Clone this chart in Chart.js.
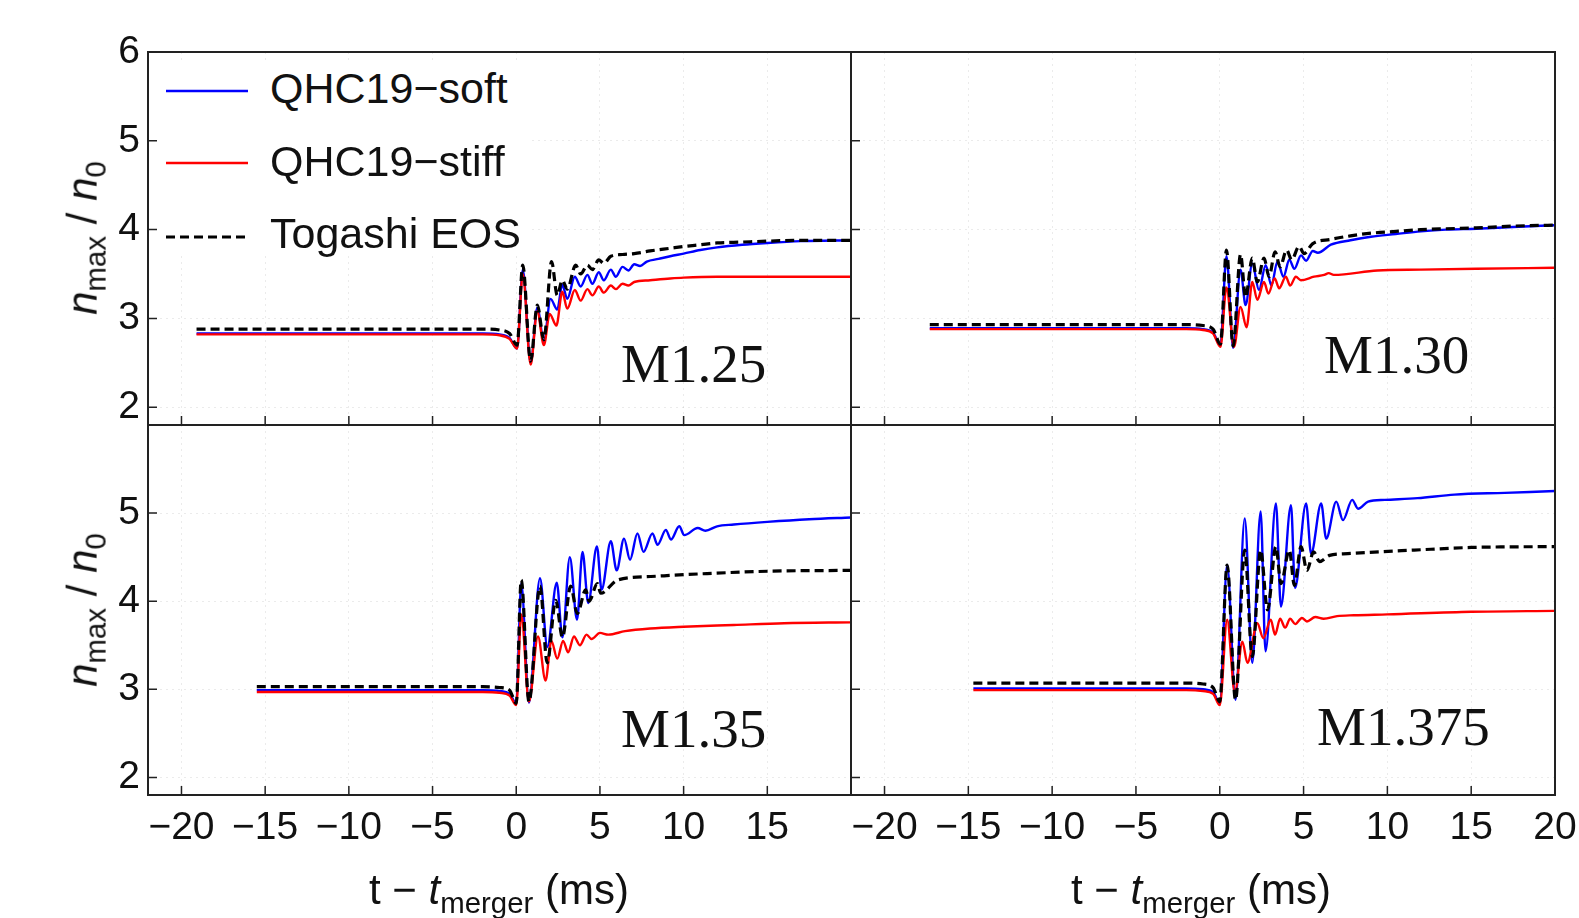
<!DOCTYPE html>
<html>
<head>
<meta charset="utf-8">
<script src="https://cdn.jsdelivr.net/npm/chart.js@4.4.1/dist/chart.umd.min.js"></script>
<style>
  html, body { margin: 0; padding: 0; background: #fff; }
  #wrap { position: relative; width: 1579px; height: 918px; overflow: hidden;
          font-family: "Liberation Sans", Arial, sans-serif; color: #111; }
  #wrap canvas { position: absolute; left: 0; top: 0; }
  .lbl { position: absolute; line-height: 1; white-space: nowrap; }
  .mass { font-family: "Liberation Serif", "Times New Roman", serif; font-size: 55px; }
  .ytitle { font-size: 42px; transform: translate(-50%, -50%) rotate(-90deg); }
  .xtitle { font-size: 42px; transform: translate(-50%, -50%); }
  .ytitle sub, .xtitle sub { font-size: 0.7em; }
  .legbox { position: absolute; left: 158px; top: 62px; width: 370px; height: 192px; background: #fff; }
  .legtxt { font-size: 43px; }
  .legsw { position: absolute; left: 166px; }
</style>
</head>
<body>
<div id="wrap">
  <canvas id="cTL" width="1579" height="918"></canvas>
  <canvas id="cTR" width="1579" height="918"></canvas>
  <canvas id="cBL" width="1579" height="918"></canvas>
  <canvas id="cBR" width="1579" height="918"></canvas>

  <div class="legbox"></div>
  <svg class="legsw" style="top:86px" width="82" height="10"><line x1="0" y1="5" x2="82" y2="5" stroke="#0000ff" stroke-width="2.5"/></svg>
  <svg class="legsw" style="top:158px" width="82" height="10"><line x1="0" y1="5" x2="82" y2="5" stroke="#ff0000" stroke-width="2.5"/></svg>
  <svg class="legsw" style="top:232px" width="82" height="10"><line x1="0" y1="5" x2="82" y2="5" stroke="#000" stroke-width="3.2" stroke-dasharray="9 5"/></svg>
  <div class="lbl legtxt" style="left:270px;top:67px">QHC19&minus;soft</div>
  <div class="lbl legtxt" style="left:270px;top:140px">QHC19&minus;stiff</div>
  <div class="lbl legtxt" style="left:270px;top:212px">Togashi EOS</div>

  <div class="lbl mass" style="left:621px;top:336px">M1.25</div>
  <div class="lbl mass" style="left:1324px;top:327px">M1.30</div>
  <div class="lbl mass" style="left:621px;top:701px">M1.35</div>
  <div class="lbl mass" style="left:1317px;top:699px">M1.375</div>

  <div class="lbl ytitle" style="left:86px;top:238px"><i>n</i><sub>max</sub> / <i>n</i><sub>0</sub></div>
  <div class="lbl ytitle" style="left:86px;top:610px"><i>n</i><sub>max</sub> / <i>n</i><sub>0</sub></div>
  <div class="lbl xtitle" style="left:499px;top:893px">t &minus; <i>t</i><sub>merger</sub> (ms)</div>
  <div class="lbl xtitle" style="left:1201px;top:893px">t &minus; <i>t</i><sub>merger</sub> (ms)</div>
</div>

<script>
// axis ranges and ticks
const X_MIN = -22, X_MAX = 20, Y_MIN = 1.8, Y_MAX = 6;
const xTicksLeft = [-20, -15, -10, -5, 0, 5, 10, 15];
const xTicksRight = [-20, -15, -10, -5, 0, 5, 10, 15, 20];
const yTicksTop = [2, 3, 4, 5, 6];
const yTicksBottom = [2, 3, 4, 5];

// M1.25
const softT_125 = [-19.1, -10, -2, -1, -0.4, 0.05, 0.39, 0.86, 1.26, 1.65, 2.05, 2.45, 2.75, 3.05, 3.5, 3.85, 4.25, 4.55, 4.93, 5.23, 5.65, 5.95, 6.35, 6.7, 7.05, 7.4, 7.8, 8.5, 9.2, 10, 11, 12, 13.5, 15, 17, 20];
const soft_125  = [2.83, 2.83, 2.83, 2.82, 2.78, 2.66, 3.55, 2.50, 3.12, 2.74, 3.22, 3.10, 3.38, 3.22, 3.47, 3.36, 3.49, 3.39, 3.52, 3.43, 3.55, 3.47, 3.58, 3.54, 3.61, 3.59, 3.64, 3.67, 3.70, 3.73, 3.77, 3.80, 3.83, 3.85, 3.87, 3.88];
const stiffT_125 = [-19.1, -10, -2, -1, -0.4, 0.05, 0.39, 0.86, 1.26, 1.65, 2.0, 2.4, 2.75, 3.05, 3.5, 3.85, 4.25, 4.55, 4.93, 5.23, 5.65, 5.95, 6.35, 6.7, 7.05, 8, 9.2, 10, 12, 15, 20];
const stiff_125  = [2.82, 2.82, 2.82, 2.81, 2.77, 2.66, 3.50, 2.48, 3.08, 2.70, 3.05, 2.92, 3.30, 3.11, 3.32, 3.20, 3.33, 3.26, 3.36, 3.29, 3.37, 3.33, 3.39, 3.37, 3.41, 3.43, 3.45, 3.46, 3.47, 3.47, 3.47];
const togT_125 = [-19.1, -10, -2, -1, -0.4, 0.05, 0.39, 0.86, 1.26, 1.65, 2.11, 2.45, 2.75, 3.05, 3.55, 3.85, 4.25, 4.55, 4.93, 5.23, 5.65, 6.35, 7.05, 8, 9.2, 10, 11, 12, 13.5, 15, 17, 20];
const tog_125  = [2.88, 2.88, 2.88, 2.87, 2.83, 2.70, 3.60, 2.52, 3.15, 2.76, 3.64, 3.26, 3.43, 3.33, 3.60, 3.50, 3.60, 3.55, 3.66, 3.62, 3.70, 3.72, 3.73, 3.76, 3.79, 3.81, 3.83, 3.85, 3.86, 3.87, 3.88, 3.88];

// M1.30
const softT_130 = [-17.3, -10, -2, -1, -0.4, 0.04, 0.4, 0.8, 1.24, 1.54, 1.94, 2.34, 2.74, 3.08, 3.44, 3.8, 4.15, 4.45, 4.85, 5.15, 5.55, 5.85, 6.63, 7.8, 9.02, 10.5, 12, 13.5, 15.3, 17.5, 20];
const soft_130  = [2.89, 2.89, 2.89, 2.88, 2.84, 2.70, 3.70, 2.67, 3.55, 3.15, 3.62, 3.32, 3.60, 3.37, 3.64, 3.47, 3.66, 3.56, 3.71, 3.65, 3.76, 3.74, 3.83, 3.88, 3.92, 3.95, 3.98, 4.00, 4.01, 4.03, 4.05];
const stiffT_130 = [-17.3, -10, -2, -1, -0.4, 0.04, 0.4, 0.85, 1.24, 1.6, 1.94, 2.24, 2.64, 2.9, 3.28, 3.54, 3.94, 4.2, 4.54, 4.84, 5.63, 6.23, 6.5, 6.8, 9.4, 12, 15.3, 20];
const stiff_130  = [2.88, 2.88, 2.88, 2.87, 2.83, 2.68, 3.35, 2.68, 3.13, 2.90, 3.41, 3.21, 3.41, 3.28, 3.45, 3.34, 3.47, 3.37, 3.47, 3.43, 3.47, 3.49, 3.51, 3.49, 3.54, 3.55, 3.56, 3.57];
const togT_130 = [-17.3, -10, -2, -1, -0.4, 0.04, 0.4, 0.8, 1.24, 1.54, 1.94, 2.24, 2.64, 2.94, 3.3, 3.6, 3.99, 4.29, 4.73, 5.03, 5.53, 6.63, 7.8, 9.02, 10.5, 12, 13.5, 15.3, 17.5, 20];
const tog_130  = [2.93, 2.93, 2.93, 2.92, 2.88, 2.71, 3.77, 2.69, 3.72, 3.24, 3.68, 3.41, 3.68, 3.47, 3.75, 3.58, 3.77, 3.66, 3.81, 3.73, 3.84, 3.89, 3.93, 3.96, 3.98, 4.00, 4.01, 4.02, 4.04, 4.05];

// M1.35
const softT_135 = [-15.5, -10, -2, -1, -0.4, 0.0, 0.3, 0.76, 1.42, 1.86, 2.42, 2.76, 3.2, 3.63, 3.96, 4.3, 4.82, 5.1, 5.65, 6.0, 6.44, 6.8, 7.24, 7.6, 8.14, 8.44, 8.94, 9.24, 9.74, 10.04, 10.84, 11.3, 12, 13, 15, 17.5, 20];
const soft_135  = [2.99, 2.99, 2.99, 2.98, 2.95, 2.84, 4.20, 2.85, 4.26, 3.48, 4.21, 3.59, 4.50, 3.79, 4.56, 3.98, 4.62, 4.13, 4.68, 4.35, 4.71, 4.47, 4.77, 4.56, 4.77, 4.64, 4.81, 4.70, 4.85, 4.75, 4.83, 4.80, 4.85, 4.87, 4.90, 4.93, 4.95];
const stiffT_135 = [-15.5, -10, -2, -1, -0.4, 0.0, 0.3, 0.76, 1.3, 1.75, 2.1, 2.45, 2.8, 3.1, 3.45, 3.8, 4.2, 4.5, 5, 5.5, 6.5, 8, 10, 13, 16, 20];
const stiff_135  = [2.97, 2.97, 2.97, 2.96, 2.93, 2.82, 3.85, 2.86, 3.60, 3.10, 3.55, 3.35, 3.55, 3.42, 3.60, 3.50, 3.62, 3.57, 3.64, 3.62, 3.66, 3.69, 3.71, 3.73, 3.75, 3.76];
const togT_135 = [-15.5, -10, -2, -1, -0.4, 0.0, 0.3, 0.76, 1.42, 1.85, 2.36, 2.76, 3.25, 3.65, 4.15, 4.35, 4.85, 5.05, 6.05, 8.04, 11, 15, 20];
const tog_135  = [3.03, 3.03, 3.03, 3.02, 2.99, 2.84, 4.24, 2.86, 4.17, 3.30, 4.01, 3.59, 4.17, 3.86, 4.13, 4.00, 4.20, 4.09, 4.24, 4.28, 4.31, 4.34, 4.35];

// M1.375
const softT_1375 = [-14.7, -10, -2, -1, -0.4, 0.0, 0.44, 0.94, 1.49, 1.94, 2.44, 2.73, 3.35, 3.65, 4.25, 4.49, 5.15, 5.45, 6.05, 6.35, 6.95, 7.35, 7.9, 8.25, 8.85, 9.85, 11.8, 14, 17, 20];
const soft_1375  = [3.01, 3.01, 3.01, 3.00, 2.97, 2.84, 4.41, 2.88, 4.94, 3.30, 5.02, 3.43, 5.11, 3.94, 5.09, 4.15, 5.11, 4.54, 5.11, 4.71, 5.13, 4.92, 5.15, 5.05, 5.13, 5.15, 5.17, 5.21, 5.23, 5.25];
const stiffT_1375 = [-14.7, -10, -2, -1, -0.4, 0.0, 0.44, 0.9, 1.35, 1.65, 2.24, 2.6, 3.04, 3.3, 3.6, 3.9, 4.2, 4.5, 4.9, 5.2, 5.7, 6.2, 7, 8, 10, 15, 20];
const stiff_1375  = [2.99, 2.99, 2.99, 2.98, 2.95, 2.82, 3.79, 2.96, 3.54, 3.30, 3.75, 3.58, 3.79, 3.62, 3.80, 3.70, 3.80, 3.74, 3.81, 3.77, 3.82, 3.80, 3.83, 3.84, 3.85, 3.88, 3.89];
const togT_1375 = [-14.7, -10, -2, -1, -0.4, 0.0, 0.44, 0.94, 1.49, 1.94, 2.44, 2.85, 3.35, 3.65, 4.15, 4.45, 4.85, 5.2, 5.6, 5.95, 6.55, 7.64, 9.5, 11.6, 15, 20];
const tog_1375  = [3.07, 3.07, 3.07, 3.06, 3.02, 2.86, 4.41, 2.88, 4.58, 3.37, 4.58, 3.90, 4.62, 4.20, 4.58, 4.18, 4.62, 4.35, 4.56, 4.45, 4.52, 4.54, 4.56, 4.58, 4.61, 4.62];

const FONT = '"Liberation Sans", Arial, sans-serif';

function pts(t, n) { return t.map((x, i) => ({x: x, y: n[i]})); }
function fmt(v) { return v < 0 ? '\u2212' + Math.abs(v) : String(v); }

// panel frame + inward tick marks
const frame = {
  id: 'frame',
  afterDraw(chart) {
    const {ctx, chartArea: a, scales: {x, y}} = chart;
    ctx.save();
    ctx.strokeStyle = '#222';
    ctx.lineWidth = 2;
    ctx.strokeRect(a.left, a.top, a.right - a.left, a.bottom - a.top);
    ctx.lineWidth = 1.5;
    ctx.beginPath();
    x.ticks.forEach(tk => { const px = x.getPixelForValue(tk.value); ctx.moveTo(px, a.bottom); ctx.lineTo(px, a.bottom - 9); });
    y.ticks.forEach(tk => { const py = y.getPixelForValue(tk.value); ctx.moveTo(a.left, py); ctx.lineTo(a.left + 9, py); });
    ctx.stroke();
    ctx.restore();
  }
};

function makePanel(id, p) {
  new Chart(document.getElementById(id), {
    type: 'line',
    data: {datasets: [
      {label: 'Togashi EOS', data: pts(p.togT, p.tog), borderColor: '#000', borderWidth: 3.2, borderDash: [9, 5], order: 0},
      {label: 'QHC19-stiff', data: pts(p.stiffT, p.stiff), borderColor: '#ff0000', borderWidth: 2.4, order: 1},
      {label: 'QHC19-soft', data: pts(p.softT, p.soft), borderColor: '#0000ff', borderWidth: 2.4, order: 2}
    ]},
    options: {
      responsive: false, animation: false, events: [],
      elements: {point: {radius: 0}, line: {cubicInterpolationMode: 'monotone', fill: false}},
      layout: {padding: p.pad, autoPadding: false},
      plugins: {legend: {display: false}, tooltip: {enabled: false}},
      scales: {
        x: {type: 'linear', min: X_MIN, max: X_MAX,
            afterBuildTicks: s => { s.ticks = p.xTicks.map(v => ({value: v})); },
            afterFit: s => { s.height = p.xH; },
            grid: {color: 'rgba(0,0,0,0.08)', drawTicks: true, tickLength: 10, tickColor: 'rgba(0,0,0,0)'},
            border: {display: false, dash: [2, 4]},
            ticks: {display: p.xLabels, autoSkip: false, maxRotation: 0, minRotation: 0, padding: 0,
                    color: '#111', font: {family: FONT, size: 39}, callback: v => fmt(v)}},
        y: {type: 'linear', min: Y_MIN, max: Y_MAX,
            afterBuildTicks: s => { s.ticks = p.yTicks.map(v => ({value: v})); },
            afterFit: s => { s.width = p.yW; },
            grid: {color: 'rgba(0,0,0,0.08)', drawTicks: false}, border: {display: false, dash: [2, 4]},
            ticks: {display: p.yLabels, padding: 8, color: '#111', font: {family: FONT, size: 39}, callback: v => fmt(v)}}
      }
    },
    plugins: [frame]
  });
}

document.addEventListener('DOMContentLoaded', function () {
  makePanel('cTL', {softT: softT_125, soft: soft_125, stiffT: stiffT_125, stiff: stiff_125, togT: togT_125, tog: tog_125,
    xTicks: xTicksLeft, yTicks: yTicksTop, xLabels: false, yLabels: true, xH: 0, yW: 100,
    pad: {left: 48, top: 52, right: 728, bottom: 493}});
  makePanel('cTR', {softT: softT_130, soft: soft_130, stiffT: stiffT_130, stiff: stiff_130, togT: togT_130, tog: tog_130,
    xTicks: xTicksRight, yTicks: yTicksTop, xLabels: false, yLabels: false, xH: 0, yW: 0,
    pad: {left: 851, top: 52, right: 24, bottom: 493}});
  makePanel('cBL', {softT: softT_135, soft: soft_135, stiffT: stiffT_135, stiff: stiff_135, togT: togT_135, tog: tog_135,
    xTicks: xTicksLeft, yTicks: yTicksBottom, xLabels: true, yLabels: true, xH: 60, yW: 100,
    pad: {left: 48, top: 425, right: 728, bottom: 63}});
  makePanel('cBR', {softT: softT_1375, soft: soft_1375, stiffT: stiffT_1375, stiff: stiff_1375, togT: togT_1375, tog: tog_1375,
    xTicks: xTicksRight, yTicks: yTicksBottom, xLabels: true, yLabels: false, xH: 60, yW: 0,
    pad: {left: 851, top: 425, right: 24, bottom: 63}});
});
</script>
</body>
</html>
